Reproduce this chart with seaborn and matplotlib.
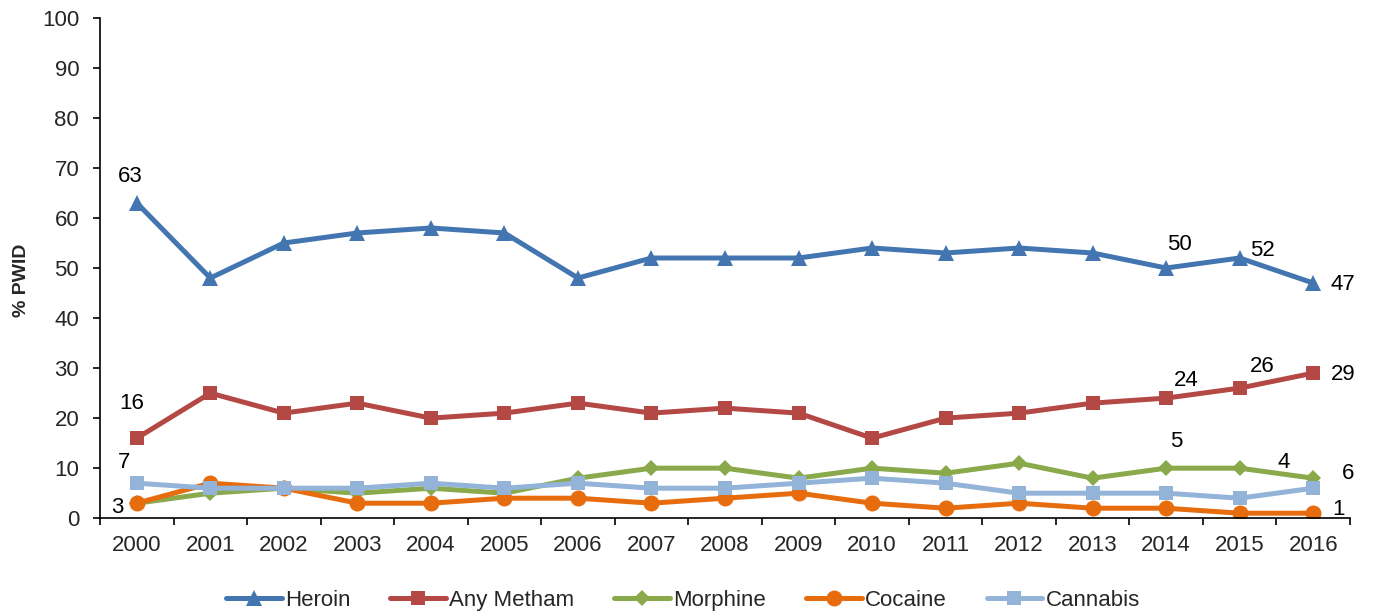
import matplotlib
matplotlib.use("Agg")
import matplotlib.pyplot as plt
import seaborn as sns
import pandas as pd
import numpy as np

years = [str(y) for y in range(2000, 2017)]
heroin = [63, 48, 55, 57, 58, 57, 48, 52, 52, 52, 54, 53, 54, 53, 50, 52, 47]
metham = [16, 25, 21, 23, 20, 21, 23, 21, 22, 21, 16, 20, 21, 23, 24, 26, 29]
morphine = [3, 5, 6, 5, 6, 5, 8, 10, 10, 8, 10, 9, 11, 8, 10, 10, 8]
cocaine = [3, 7, 6, 3, 3, 4, 4, 3, 4, 5, 3, 2, 3, 2, 2, 1, 1]
cannabis = [7, 6, 6, 6, 7, 6, 7, 6, 6, 7, 8, 7, 5, 5, 5, 4, 6]
series_names = ["Heroin", "Any Metham", "Morphine", "Cocaine", "Cannabis"]
y_ticks = list(range(0, 101, 10))

# data labels: (series, year index, text)
labels = [
    ("Heroin", 0, "63"), ("Heroin", 14, "50"), ("Heroin", 15, "52"), ("Heroin", 16, "47"),
    ("Any Metham", 0, "16"), ("Any Metham", 14, "24"), ("Any Metham", 15, "26"), ("Any Metham", 16, "29"),
    ("Cannabis", 0, "7"), ("Cannabis", 14, "5"), ("Cannabis", 15, "4"), ("Cannabis", 16, "6"),
    ("Cocaine", 0, "3"), ("Cocaine", 16, "1"),
]
offsets = [(-7, 26), (13, 24), (23, 8), (30, -1),
           (-5, 35), (20, 18), (23, 22), (30, -1),
           (-13, 21), (10, 52), (44, 36), (35, 15),
           (-19, -4), (25, 4)]

values = {"Heroin": heroin, "Any Metham": metham, "Morphine": morphine,
          "Cocaine": cocaine, "Cannabis": cannabis}
rows = []
for s in series_names:
    for i, v in enumerate(values[s]):
        rows.append({"idx": i, "value": v, "series": s})
df = pd.DataFrame(rows)

palette = {"Heroin": "#4375B0", "Any Metham": "#B44845", "Morphine": "#89A94B",
           "Cocaine": "#E66C0E", "Cannabis": "#94B3D8"}
markers = {"Heroin": "^", "Any Metham": "s", "Morphine": "D",
           "Cocaine": "o", "Cannabis": "s"}
msizes = {"Heroin": 11, "Any Metham": 10, "Morphine": 8, "Cocaine": 11.5, "Cannabis": 10}

sns.set_style("white")
plt.rcParams['font.family'] = ['Liberation Sans', 'DejaVu Sans']
FS = 16

fig = plt.figure(figsize=(13.74, 6.14), dpi=100)
ax = fig.add_axes([0.0728, 0.156, 0.9097, 0.815])

for s in series_names:
    sub = df[df.series == s]
    sns.lineplot(data=sub, x="idx", y="value", ax=ax, color=palette[s],
                 marker=markers[s], markersize=msizes[s], linewidth=3.6,
                 markeredgewidth=0, label=s, sort=False)

for (s, i, t), (dx, dy) in zip(labels, offsets):
    ax.annotate(t, xy=(i, values[s][i]), xytext=(dx, dy), textcoords="offset pixels",
                ha="center", va="center", fontsize=FS, color="black")

ax.set_xlim(-0.5, len(years) - 0.5)
ax.set_ylim(0, 100)
ax.set_yticks(y_ticks)
ax.set_yticklabels([str(t) for t in y_ticks], fontsize=FS)
ax.set_xticks(np.arange(len(years)))
ax.set_xticklabels(years, fontsize=FS)
ax.set_xticks(np.arange(-0.5, len(years)), minor=True)
ax.tick_params(axis="x", which="major", length=0, pad=12)
ax.tick_params(axis="x", which="minor", length=5, width=1.2, direction="out", color="black", bottom=True)
ax.tick_params(axis="y", length=5, width=1.2, direction="out", color="black", left=True, pad=10)
ax.set_xlabel("")
ax.set_ylabel("% PWID", fontsize=14, fontweight="bold", va="center")
ax.yaxis.set_label_coords(-0.063, 0.476)
for sp in ["top", "right"]:
    ax.spines[sp].set_visible(False)
for sp in ["left", "bottom"]:
    ax.spines[sp].set_color("black")
    ax.spines[sp].set_linewidth(1.2)

if ax.legend_:
    ax.legend_.remove()
handles, lbls = ax.get_legend_handles_labels()
fig.legend(handles, lbls, loc="lower center", bbox_to_anchor=(0.497, -0.028), ncol=5,
           frameon=False, fontsize=FS, handlelength=2.5, columnspacing=1.8, handletextpad=0.15)

fig.savefig("out.png", dpi=100)
